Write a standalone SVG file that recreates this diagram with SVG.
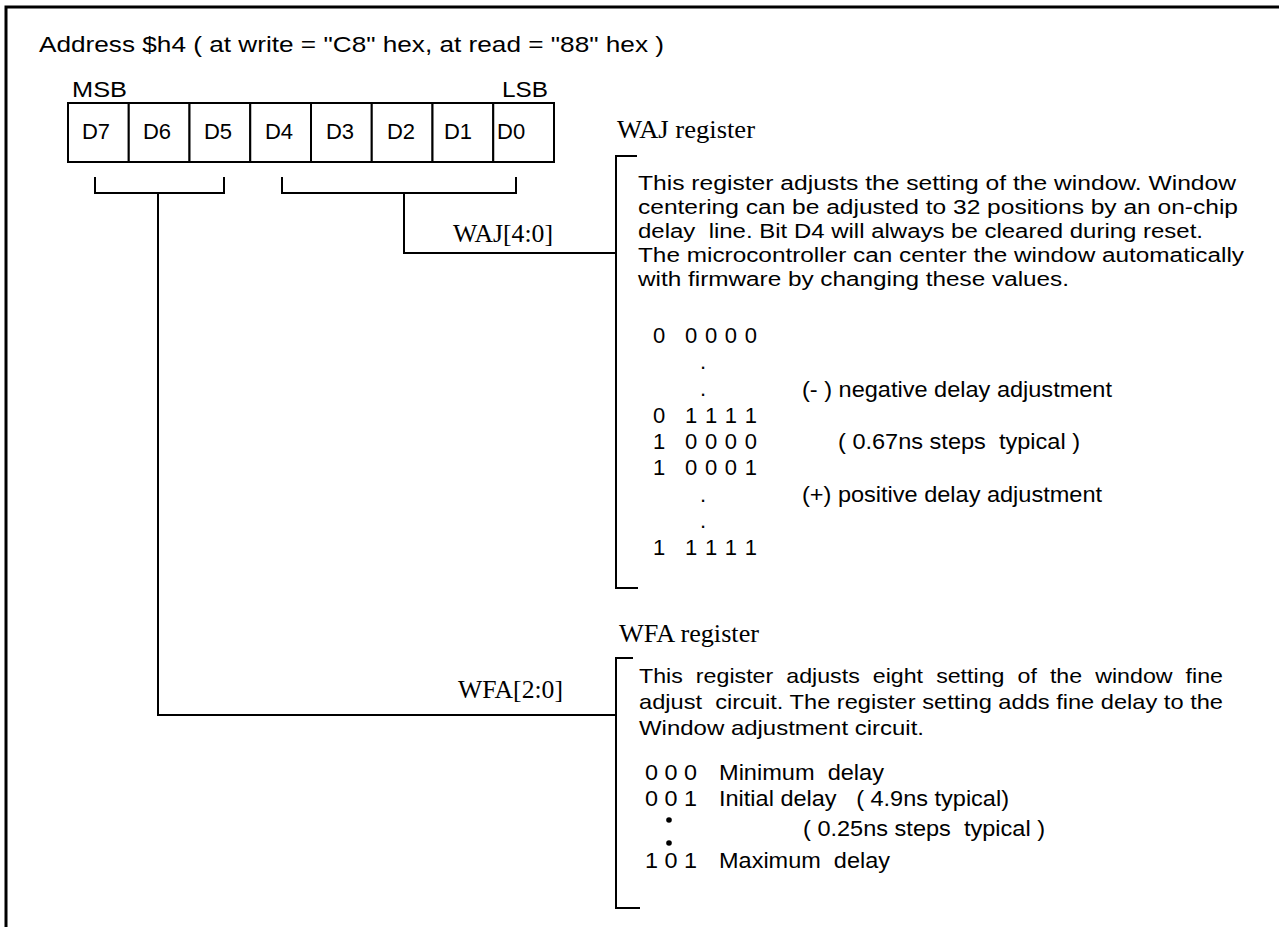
<svg xmlns="http://www.w3.org/2000/svg" width="1279" height="927" viewBox="0 0 1279 927">
<style>
.s{font-family:"Liberation Sans",Arial,sans-serif;font-size:22px;fill:#000}
.b{font-family:"Liberation Sans",Arial,sans-serif;font-size:20px;fill:#000}
.w{font-family:"Liberation Sans",Arial,sans-serif;font-size:21px;fill:#000}
.t{font-family:"Liberation Serif","Times New Roman",serif;font-size:25px;fill:#000}
.d{font-family:"Liberation Sans",Arial,sans-serif;font-size:22px;fill:#000}
.ln{fill:none;stroke:#000;stroke-width:2}
.cell{fill:#fff;stroke:#000;stroke-width:2}
</style>
<rect width="1279" height="927" fill="#fff"/>
<g id="frame">
<path d="M1279,7 H6 V927" fill="none" stroke="#000" stroke-width="3"/>
</g>
<g id="title">
<text class="s" x="39" y="52" font-size="25" textLength="625" lengthAdjust="spacingAndGlyphs">Address $h4 ( at write = "C8" hex, at read = "88" hex )</text>
</g>
<g id="register">
<text class="s" x="72" y="97" font-size="24" textLength="55" lengthAdjust="spacingAndGlyphs">MSB</text>
<text class="s" x="502" y="97" font-size="24" textLength="46" lengthAdjust="spacingAndGlyphs">LSB</text>
<rect class="cell" x="68" y="103" width="60.75" height="59"/>
<rect class="cell" x="128.75" y="103" width="60.75" height="59"/>
<rect class="cell" x="189.5" y="103" width="60.75" height="59"/>
<rect class="cell" x="250.25" y="103" width="60.75" height="59"/>
<rect class="cell" x="311" y="103" width="60.75" height="59"/>
<rect class="cell" x="371.75" y="103" width="60.75" height="59"/>
<rect class="cell" x="432.5" y="103" width="60.75" height="59"/>
<rect class="cell" x="493.25" y="103" width="60.75" height="59"/>
<text class="d" x="96" y="139" text-anchor="middle">D7</text>
<text class="d" x="157" y="139" text-anchor="middle">D6</text>
<text class="d" x="218" y="139" text-anchor="middle">D5</text>
<text class="d" x="279" y="139" text-anchor="middle">D4</text>
<text class="d" x="340" y="139" text-anchor="middle">D3</text>
<text class="d" x="401" y="139" text-anchor="middle">D2</text>
<text class="d" x="458" y="139" text-anchor="middle">D1</text>
<text class="d" x="497" y="139">D0</text>
</g>
<g id="connectors">
<path class="ln" d="M95,177 V193 H224 V177"/>
<path class="ln" d="M282,177 V193 H516 V177"/>
<path class="ln" d="M404,193 V253 H616"/>
<path class="ln" d="M158,193 V715 H616"/>
<text class="t" x="453" y="242" textLength="100" lengthAdjust="spacingAndGlyphs">WAJ[4:0]</text>
<text class="t" x="458" y="698" textLength="105" lengthAdjust="spacingAndGlyphs">WFA[2:0]</text>
</g>
<g id="waj">
<text class="t" x="617" y="138" textLength="138" lengthAdjust="spacingAndGlyphs">WAJ register</text>
<path class="ln" d="M637,156 H616 V588 H638"/>
<text class="b" x="638" y="190" textLength="598" lengthAdjust="spacingAndGlyphs">This register adjusts the setting of the window. Window</text>
<text class="b" x="638" y="214" textLength="600" lengthAdjust="spacingAndGlyphs">centering can be adjusted to 32 positions by an on-chip</text>
<text class="b" x="638" y="238" xml:space="preserve" textLength="565" lengthAdjust="spacingAndGlyphs">delay  line. Bit D4 will always be cleared during reset.</text>
<text class="b" x="638" y="262" textLength="606" lengthAdjust="spacingAndGlyphs">The microcontroller can center the window automatically</text>
<text class="b" x="638" y="286" textLength="431" lengthAdjust="spacingAndGlyphs">with firmware by changing these values.</text>
<g id="waj-values">
<text class="s" x="653" y="343">0</text><text class="s" x="685" y="343" textLength="72" lengthAdjust="spacing">0000</text>
<text class="s" x="700" y="369">.</text>
<text class="s" x="700" y="396">.</text>
<text class="s" x="802" y="397" textLength="310" lengthAdjust="spacingAndGlyphs">(- ) negative delay adjustment</text>
<text class="s" x="653" y="423">0</text><text class="s" x="685" y="423" textLength="72" lengthAdjust="spacing">1111</text>
<text class="s" x="653" y="449">1</text><text class="s" x="685" y="449" textLength="72" lengthAdjust="spacing">0000</text>
<text class="s" x="838" y="449" xml:space="preserve" textLength="242" lengthAdjust="spacingAndGlyphs">( 0.67ns steps  typical )</text>
<text class="s" x="653" y="475">1</text><text class="s" x="685" y="475" textLength="72" lengthAdjust="spacing">0001</text>
<text class="s" x="700" y="502">.</text>
<text class="s" x="802" y="502" textLength="300" lengthAdjust="spacingAndGlyphs">(+) positive delay adjustment</text>
<text class="s" x="700" y="528">.</text>
<text class="s" x="653" y="555">1</text><text class="s" x="685" y="555" textLength="72" lengthAdjust="spacing">1111</text>
</g>
</g>
<g id="wfa">
<text class="t" x="619" y="642" textLength="140" lengthAdjust="spacingAndGlyphs">WFA register</text>
<path class="ln" d="M633,658 H616 V908 H640"/>
<text class="w" x="639" y="683" word-spacing="6" textLength="584" lengthAdjust="spacingAndGlyphs">This register adjusts eight setting of the window fine</text>
<text class="w" x="639" y="709" xml:space="preserve" textLength="584" lengthAdjust="spacingAndGlyphs">adjust  circuit. The register setting adds fine delay to the</text>
<text class="w" x="639" y="735" textLength="285" lengthAdjust="spacingAndGlyphs">Window adjustment circuit.</text>
<g id="wfa-values">
<text class="s" x="645" y="780" textLength="52" lengthAdjust="spacingAndGlyphs">0 0 0</text><text class="s" x="719" y="780" xml:space="preserve" textLength="165" lengthAdjust="spacingAndGlyphs">Minimum  delay</text>
<text class="s" x="645" y="806" textLength="52" lengthAdjust="spacingAndGlyphs">0 0 1</text><text class="s" x="719" y="806" xml:space="preserve" textLength="290" lengthAdjust="spacingAndGlyphs">Initial delay   ( 4.9ns typical)</text>
<circle cx="669" cy="820" r="2.8" fill="#000"/>
<text class="s" x="803" y="836" xml:space="preserve" textLength="242" lengthAdjust="spacingAndGlyphs">( 0.25ns steps  typical )</text>
<circle cx="669" cy="843" r="2.8" fill="#000"/>
<text class="s" x="645" y="868" textLength="52" lengthAdjust="spacingAndGlyphs">1 0 1</text><text class="s" x="719" y="868" xml:space="preserve" textLength="171" lengthAdjust="spacingAndGlyphs">Maximum  delay</text>
</g>
</g>
</svg>
